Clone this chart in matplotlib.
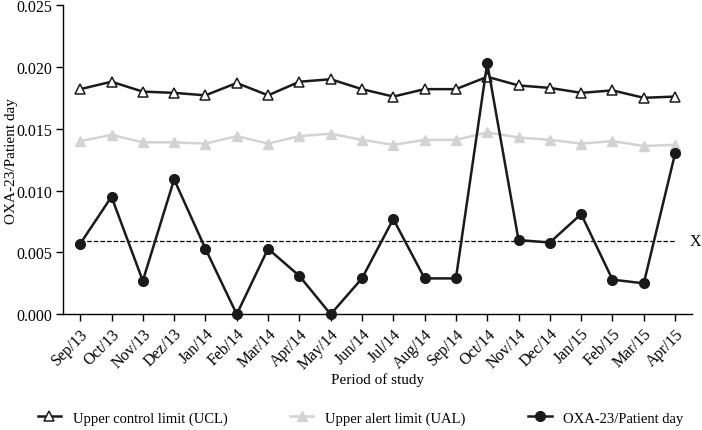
import matplotlib
matplotlib.use("Agg")
import matplotlib.pyplot as plt
import numpy as np

plt.rcParams['font.family'] = ['Liberation Serif', 'DejaVu Serif']

meses = ["Sep/13", "Oct/13", "Nov/13", "Dez/13", "Jan/14", "Feb/14", "Mar/14",
         "Apr/14", "May/14", "Jun/14", "Jul/14", "Aug/14", "Sep/14", "Oct/14",
         "Nov/14", "Dec/14", "Jan/15", "Feb/15", "Mar/15", "Apr/15"]

ucl = [0.0182, 0.0188, 0.0180, 0.0179, 0.0177, 0.0187, 0.0177, 0.0188, 0.0190, 0.0182,
       0.0176, 0.0182, 0.0182, 0.0192, 0.0185, 0.0183, 0.0179, 0.0181, 0.0175, 0.0176]
ual = [0.0140, 0.0145, 0.0139, 0.0139, 0.0138, 0.0144, 0.0138, 0.0144, 0.0146, 0.0141,
       0.0137, 0.0141, 0.0141, 0.0147, 0.0143, 0.0141, 0.0138, 0.0140, 0.0136, 0.0137]
oxa = [0.0057, 0.0095, 0.0027, 0.0109, 0.0053, 0.0000, 0.0053, 0.0031, 0.0000, 0.0029,
       0.0077, 0.0029, 0.0029, 0.0203, 0.0060, 0.0058, 0.0081, 0.0028, 0.0025, 0.0130]
media = 0.0059

x = np.arange(len(meses))

fig = plt.figure(figsize=(7.02, 4.31), dpi=100)
ax = fig.add_axes([0.0897, 0.2685, 0.8956, 0.7175])

ax.plot(x, [media] * len(x), color='black', linestyle='--', linewidth=0.9, zorder=1)
ax.plot(x, ual, color='#d3d3d3', linewidth=1.8, marker='^', markersize=6.5,
        markerfacecolor='#d3d3d3', markeredgecolor='#d3d3d3',
        label='Upper alert limit (UAL)', zorder=2)
ax.plot(x, ucl, color='#1a1a1a', linewidth=1.8, marker='^', markersize=6.5,
        markerfacecolor='white', markeredgecolor='#1a1a1a', markeredgewidth=1.1,
        label='Upper control limit (UCL)', zorder=3)
ax.plot(x, oxa, color='#1a1a1a', linewidth=1.8, marker='o', markersize=7,
        markerfacecolor='#1a1a1a', label='OXA-23/Patient day', zorder=4, clip_on=False)

ax.text(19.45, media, "X", fontsize=11.5, va='center', ha='left')

ax.set_xlim(-0.55, 19.53)
ax.set_ylim(0, 0.025)
ax.set_yticks([0, 0.005, 0.010, 0.015, 0.020, 0.025])
ax.set_yticklabels(["0.000", "0.005", "0.010", "0.015", "0.020", "0.025"])
ax.set_xticks(x)
ax.set_xticklabels(meses, rotation=45, ha='right', rotation_mode='anchor')
ax.tick_params(labelsize=11.5, length=5, width=1, direction='out', pad=3)
ax.spines['top'].set_visible(False)
ax.spines['right'].set_visible(False)
ax.spines['left'].set_linewidth(1)
ax.spines['bottom'].set_linewidth(1)

ax.set_ylabel("OXA-23/Patient day", fontsize=11)
ax.yaxis.set_label_coords(-0.072, 0.5)
ax.set_xlabel("Period of study", fontsize=11, labelpad=0)

handles, labels = ax.get_legend_handles_labels()
ordem = [1, 0, 2]
fig.legend([handles[i] for i in ordem], [labels[i] for i in ordem],
           loc='center left', bbox_to_anchor=(0.035, 0.028), ncol=3, frameon=False,
           fontsize=10.5, handlelength=1.6, columnspacing=4.3, handletextpad=0.8)

fig.savefig("out.png", dpi=100)
